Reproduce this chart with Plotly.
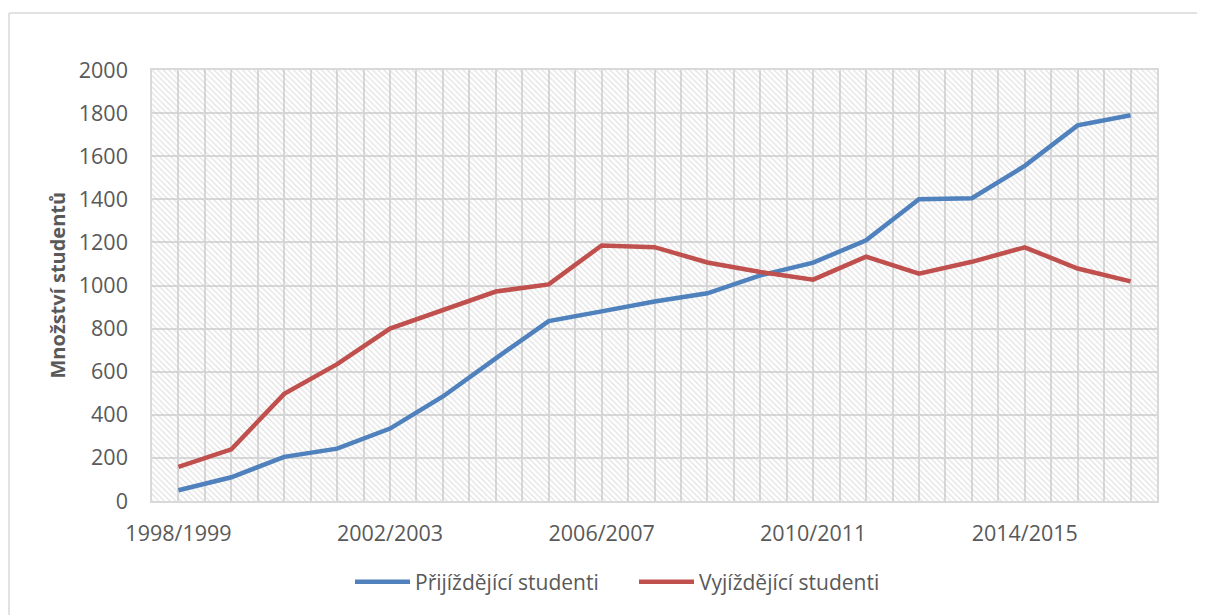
import plotly.graph_objects as go

categories = ["1998/1999", "1999/2000", "2000/2001", "2001/2002", "2002/2003", "2003/2004",
              "2004/2005", "2005/2006", "2006/2007", "2007/2008", "2008/2009", "2009/2010",
              "2010/2011", "2011/2012", "2012/2013", "2013/2014", "2014/2015", "2015/2016",
              "2016/2017"]
prijizdejici = [50, 110, 205, 243, 336, 485, 662, 835, 880, 926, 964, 1047, 1106, 1210,
                1400, 1405, 1555, 1743, 1790]
vyjizdejici = [158, 240, 497, 635, 800, 887, 972, 1005, 1186, 1178, 1107, 1063, 1027, 1134,
               1055, 1110, 1177, 1079, 1019]
tick_every = 4
y_max = 2000
y_step = 200

FONT = "Open Sans"
TXT = "#595959"
GRID = "#d9d9d9"

n = len(categories)
xs = list(range(n))
x_lo, x_hi = -0.5, n - 0.5

fig = go.Figure()

# hatched plot background
fig.add_trace(go.Scatter(
    x=[x_lo, x_hi, x_hi, x_lo, x_lo], y=[0, 0, y_max, y_max, 0],
    mode="none", fill="toself", fillcolor="rgba(0,0,0,0)",
    fillpattern=dict(shape="\\", size=4, solidity=0.3, fgcolor="#c4c4c4",
                     bgcolor="rgba(0,0,0,0)"),
    showlegend=False, hoverinfo="skip"))

fig.add_trace(go.Scatter(x=xs, y=prijizdejici, mode="lines", name="Přijíždějící studenti",
                         line=dict(color="#4F81BD", width=4.5)))
fig.add_trace(go.Scatter(x=xs, y=vyjizdejici, mode="lines", name="Vyjíždějící studenti",
                         line=dict(color="#C0504D", width=4.5)))

major = xs[::tick_every]
minor_vals = [x_lo + 0.5 * k for k in range(2 * n + 1)]

fig.update_xaxes(
    range=[x_lo, x_hi], tickmode="array", tickvals=major,
    ticktext=[categories[i] for i in major],
    showgrid=True, gridcolor=GRID, gridwidth=1.5,
    minor=dict(tickmode="array", tickvals=minor_vals, showgrid=True,
               gridcolor=GRID, gridwidth=1.5, ticks=""),
    showline=True, mirror=True, linecolor=GRID, linewidth=1.5,
    ticks="", ticklabelstandoff=12, zeroline=False,
    tickfont=dict(family=FONT, size=21.5, color=TXT))
fig.update_yaxes(
    range=[0, y_max], tick0=0, dtick=y_step,
    showgrid=True, gridcolor=GRID, gridwidth=1.5,
    showline=True, mirror=True, linecolor=GRID, linewidth=1.5,
    ticks="", ticklabelstandoff=18, zeroline=False,
    tickfont=dict(family=FONT, size=21.5, color=TXT))

# page body has an 8px margin; the figure is placed so the plot lands at x 152..1157, y 70..493
OFF = 8
L, R, T, B = 152 - OFF, 48, 70 - OFF, 122 - OFF
W, H = 1205 - OFF, 615 - OFF
pw, ph = W - L - R, H - T - B

def px_x(x):
    return (x - OFF - L) / pw

def px_y(y):
    return (T + ph - (y - OFF)) / ph

fig.add_annotation(
    text="<b>Množství studentů</b>", textangle=-90, showarrow=False,
    xref="paper", yref="paper", x=px_x(57), y=0.5,
    xanchor="center", yanchor="middle",
    font=dict(family=FONT, size=20, color=TXT))

# chart border (left and top edges; the others fall outside the picture)
fig.add_shape(type="line", xref="paper", yref="paper",
              x0=px_x(9), x1=px_x(9), y0=px_y(640), y1=px_y(13),
              line=dict(color=GRID, width=1.5), layer="below")
fig.add_shape(type="line", xref="paper", yref="paper",
              x0=px_x(9), x1=px_x(1240), y0=px_y(13), y1=px_y(13),
              line=dict(color=GRID, width=1.5), layer="below")

fig.update_layout(
    width=W, height=H, margin=dict(l=L, r=R, t=T, b=B),
    paper_bgcolor="white", plot_bgcolor="white",
    font=dict(family=FONT, color=TXT),
    legend=dict(orientation="h", x=px_x(350), xanchor="left",
                y=px_y(582), yanchor="middle",
                itemwidth=55, entrywidth=214, entrywidthmode="pixels",
                font=dict(family=FONT, size=21, color=TXT),
                bgcolor="rgba(0,0,0,0)"),
    showlegend=True)

fig.write_html("out.html")
